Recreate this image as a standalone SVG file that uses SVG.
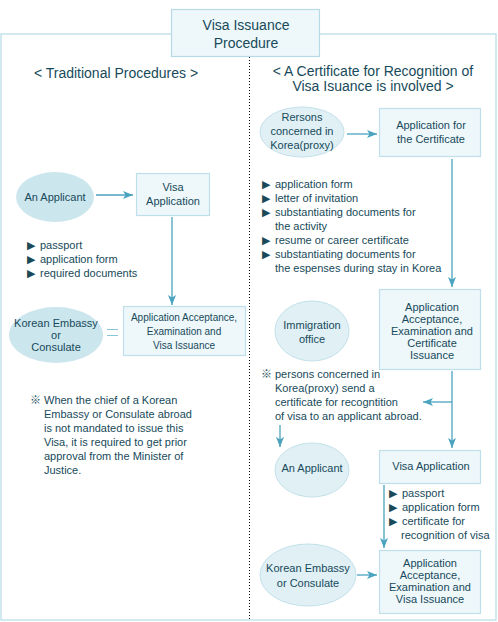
<svg xmlns="http://www.w3.org/2000/svg" width="498" height="622" viewBox="0 0 498 622">
<style>
text{font-family:"Liberation Sans",Arial,sans-serif;fill:#174a5a;font-size:11px}
.c{text-anchor:middle}
.h{font-size:14px}
.s{font-size:10px}
.box{fill:#eef7fa;stroke:#bfe0ea;stroke-width:1.2}
.ell1{fill:#cce6ee}
.ell2{fill:#e0f0f5;stroke:#c3e1ea;stroke-width:1}
.ln{stroke:#4aa3bf;stroke-width:1.3;fill:none}
.b{font-family:"DejaVu Sans",sans-serif;font-size:11px;fill:#1a4a58}
.m{font-family:"Noto Sans CJK KR","DejaVu Sans",sans-serif;font-size:11px;font-weight:bold}
</style>
<defs>
<marker id="ah" viewBox="0 0 10 8" refX="10" refY="4" markerWidth="10" markerHeight="8" markerUnits="userSpaceOnUse" orient="auto">
<path d="M0,0 L10,4 L0,8 L2.5,4 Z" fill="#4aa3bf"/>
</marker>
</defs>
<rect x="0" y="0" width="498" height="622" fill="#fff"/>
<rect x="1" y="34" width="495" height="586" fill="none" stroke="#c3e2eb" stroke-width="1.5"/>
<line x1="249.5" y1="57" x2="249.5" y2="620" stroke="#000" stroke-width="1" stroke-dasharray="1,2"/>

<g id="title">
<rect x="171.5" y="9.5" width="148" height="47" fill="#eef7fa" stroke="#b7dbe6" stroke-width="1.2"/>
<text class="c h" x="246" y="30">Visa Issuance</text>
<text class="c h" x="246" y="48">Procedure</text>
</g>

<g id="heading-left"><text class="c h" x="116" y="78">&lt; Traditional Procedures &gt;</text></g>
<g id="heading-right">
<text class="c h" x="373" y="76">&lt; A Certificate for Recognition of</text>
<text class="c h" x="373" y="91">Visa Isuance is involved &gt;</text>
</g>

<g id="connectors">
<line class="ln" x1="96" y1="195" x2="133" y2="195" marker-end="url(#ah)"/>
<line class="ln" x1="172" y1="217" x2="172" y2="305" marker-end="url(#ah)"/>
<line x1="107" y1="329.5" x2="118" y2="329.5" stroke="#8cc7d8" stroke-width="1"/>
<line x1="107" y1="335.5" x2="118" y2="335.5" stroke="#8cc7d8" stroke-width="1"/>
<line class="ln" x1="347" y1="134" x2="377" y2="134" marker-end="url(#ah)"/>
<line class="ln" x1="452" y1="159" x2="452" y2="287" marker-end="url(#ah)"/>
<line class="ln" x1="452" y1="371" x2="452" y2="448" marker-end="url(#ah)"/>
<line class="ln" x1="452" y1="402" x2="423" y2="402" marker-end="url(#ah)"/>
<line class="ln" x1="280" y1="425" x2="280" y2="447" marker-end="url(#ah)"/>
<line class="ln" x1="384" y1="485" x2="384" y2="548" marker-end="url(#ah)"/>
<line class="ln" x1="357" y1="575" x2="377" y2="575" marker-end="url(#ah)"/>
</g>

<g id="applicant-left">
<ellipse class="ell1" cx="55" cy="197" rx="39" ry="25"/>
<text class="c" x="55" y="201">An Applicant</text>
</g>
<g id="visa-application-left">
<rect class="box" x="136.5" y="173.5" width="73" height="42"/>
<text class="c" x="173" y="191">Visa</text>
<text class="c" x="173" y="205">Application</text>
</g>
<g id="docs-left">
<text class="b" x="27" y="249">▶</text><text x="40" y="249">passport</text>
<text class="b" x="27" y="263">▶</text><text x="40" y="263">application form</text>
<text class="b" x="27" y="277">▶</text><text x="40" y="277">required documents</text>
</g>
<g id="embassy-left">
<ellipse class="ell1" cx="56" cy="335" rx="47" ry="28"/>
<text class="c" x="56" y="327">Korean Embassy</text>
<text class="c" x="56" y="339">or</text>
<text class="c" x="56" y="351">Consulate</text>
</g>
<g id="issuance-left">
<rect class="box" x="123.5" y="306.5" width="122" height="49"/>
<text class="c s" x="184" y="321">Application Acceptance,</text>
<text class="c s" x="184" y="335">Examination and</text>
<text class="c s" x="184" y="349">Visa Issuance</text>
</g>
<g id="note-left">
<text class="m" x="30" y="404">※</text>
<text x="44" y="404">When the chief of a Korean</text>
<text x="44" y="418">Embassy or Consulate abroad</text>
<text x="44" y="432">is not mandated to issue this</text>
<text x="44" y="446">Visa, it is required to get prior</text>
<text x="44" y="460">approval from the Minister of</text>
<text x="44" y="474">Justice.</text>
</g>

<g id="persons-right">
<ellipse class="ell2" cx="302" cy="132" rx="42" ry="25"/>
<text class="c" x="302" y="121">Rersons</text>
<text class="c" x="302" y="135">concerned in</text>
<text class="c" x="302" y="149">Korea(proxy)</text>
</g>
<g id="certificate-application">
<rect class="box" x="379.5" y="108.5" width="101" height="48"/>
<text class="c" x="431" y="129">Application for</text>
<text class="c" x="431" y="143">the Certificate</text>
</g>
<g id="docs-right">
<text class="b" x="262" y="188">▶</text><text x="275" y="188">application form</text>
<text class="b" x="262" y="202">▶</text><text x="275" y="202">letter of invitation</text>
<text class="b" x="262" y="216">▶</text><text x="275" y="216">substantiating documents for</text>
<text x="275" y="230">the activity</text>
<text class="b" x="262" y="244">▶</text><text x="275" y="244">resume or career certificate</text>
<text class="b" x="262" y="258">▶</text><text x="275" y="258">substantiating documents for</text>
<text x="275" y="272">the espenses during stay in Korea</text>
</g>
<g id="immigration">
<ellipse class="ell2" cx="312" cy="331" rx="37" ry="30"/>
<text class="c" x="312" y="329">Immigration</text>
<text class="c" x="312" y="343">office</text>
</g>
<g id="certificate-issuance">
<rect class="box" x="379.5" y="289.5" width="101" height="80"/>
<text class="c" x="432" y="311">Application</text>
<text class="c" x="432" y="323">Acceptance,</text>
<text class="c" x="432" y="335">Examination and</text>
<text class="c" x="432" y="347">Certificate</text>
<text class="c" x="432" y="359">Issuance</text>
</g>
<g id="note-right">
<text class="m" x="261" y="378">※</text>
<text x="275" y="378">persons concerned in</text>
<text x="275" y="392">Korea(proxy) send a</text>
<text x="275" y="406">certificate for recogntition</text>
<text x="275" y="420">of visa to an applicant abroad.</text>
</g>
<g id="applicant-right">
<ellipse class="ell2" cx="312" cy="470" rx="37" ry="27"/>
<text class="c" x="312" y="472">An Applicant</text>
</g>
<g id="visa-application-right">
<rect class="box" x="379.5" y="450.5" width="101" height="33"/>
<text class="c" x="431" y="470">Visa Application</text>
</g>
<g id="docs-right-2">
<text class="b" x="389" y="497">▶</text><text x="402" y="497">passport</text>
<text class="b" x="389" y="511">▶</text><text x="402" y="511">application form</text>
<text class="b" x="389" y="525">▶</text><text x="402" y="525">certificate for</text>
<text x="401" y="539">recognition of visa</text>
</g>
<g id="embassy-right">
<ellipse class="ell2" cx="308" cy="575" rx="48" ry="31"/>
<text class="c" x="308" y="572">Korean Embassy</text>
<text class="c" x="308" y="587">or Consulate</text>
</g>
<g id="issuance-right">
<rect class="box" x="379.5" y="550.5" width="101" height="63"/>
<text class="c" x="430" y="567">Application</text>
<text class="c" x="430" y="579">Acceptance,</text>
<text class="c" x="430" y="591">Examination and</text>
<text class="c" x="430" y="603">Visa Issuance</text>
</g>
</svg>
